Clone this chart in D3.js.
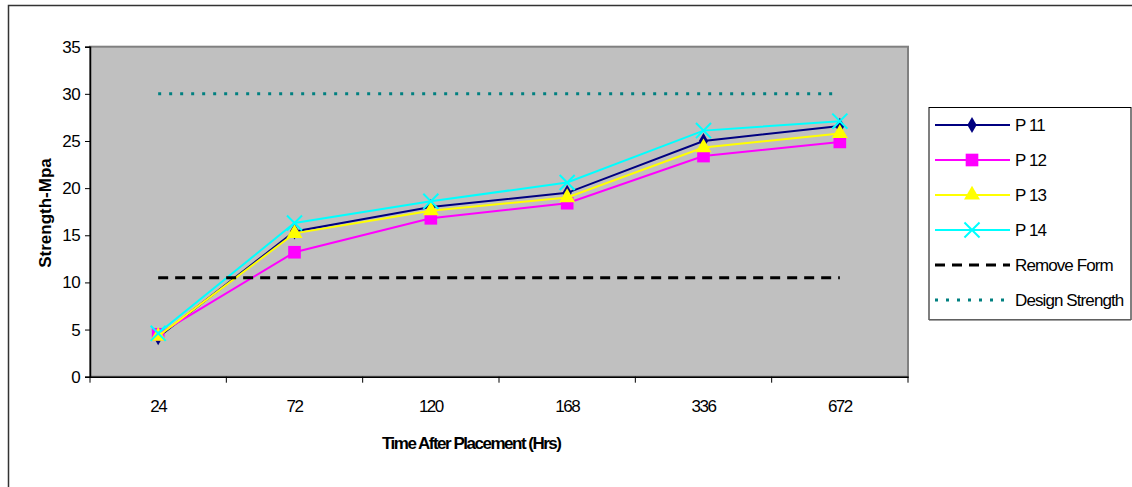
<!DOCTYPE html>
<html><head><meta charset="utf-8">
<script src="https://cdn.jsdelivr.net/npm/d3@7"></script>
<style>
body{margin:0;background:#fff;}
text{font-family:"Liberation Sans",Arial,sans-serif;}
</style></head>
<body>
<svg id="c" width="1132" height="487"></svg>
<script>
const categories = ["24","72","120","168","336","672"];
const p11 = [4.2, 15.4, 18.0, 19.5, 25.0, 26.6];
const p12 = [4.5, 13.2, 16.8, 18.4, 23.4, 24.9];
const p13 = [4.3, 15.2, 17.6, 19.0, 24.3, 25.8];
const p14 = [4.6, 16.3, 18.6, 20.6, 26.1, 27.1];
const removeForm = [10.5, 10.5, 10.5, 10.5, 10.5, 10.5];
const designStrength = [30, 30, 30, 30, 30, 30];
const yTicks = [0, 5, 10, 15, 20, 25, 30, 35];
const seriesNames = ["P 11", "P 12", "P 13", "P 14", "Remove Form", "Design Strength"];

const svg = d3.select("#c");
const L = 90, R = 908, T = 46.7, B = 376.7;
const FF = "'Liberation Sans',Arial,sans-serif";

// outer chart border
svg.append("rect").attr("x", 8.5).attr("y", 5.5).attr("width", 1140).attr("height", 500)
  .attr("fill", "#fff").attr("stroke", "#333").attr("stroke-width", 1.5);

const x = d3.scaleBand().domain(categories).range([L, R]);
const y = d3.scaleLinear().domain([0, 35]).range([B, T]);

// plot area
svg.append("rect").attr("x", L).attr("y", T).attr("width", R - L).attr("height", B - T)
  .attr("fill", "#c0c0c0").attr("stroke", "#808080").attr("stroke-width", 2);

// axes
const yAxis = svg.append("g").attr("transform", `translate(${L},0)`)
  .call(d3.axisLeft(y).tickValues(yTicks).tickSize(5).tickPadding(5));
const xAxis = svg.append("g").attr("transform", `translate(0,${B})`)
  .call(d3.axisBottom(x).tickSize(0).tickPadding(23));
const bounds = categories.map(c => x(c)).concat([R]);
xAxis.selectAll(".bt").data(bounds).enter().append("line")
  .attr("x1", d => d).attr("x2", d => d).attr("y1", 0).attr("y2", 6).attr("stroke", "#000");
[yAxis, xAxis].forEach(g => {
  g.selectAll(".domain").attr("stroke", "#000").attr("stroke-width", 1.5);
  g.selectAll("text").attr("font-size", 17).attr("fill", "#000")
    .style("font-family", FF);
});
yAxis.selectAll("text").attr("letter-spacing", -0.6);
xAxis.selectAll("text").attr("letter-spacing", -1.5);
yAxis.selectAll("line").attr("stroke", "#000");

// axis titles
svg.append("text").attr("x", 472).attr("y", 449).attr("text-anchor", "middle")
  .attr("font-size", 17).attr("font-weight", "bold")
  .attr("textLength", 180).attr("lengthAdjust", "spacing")
  .text("Time After Placement (Hrs)");
svg.append("text").attr("transform", "translate(51,213) rotate(-90)").attr("text-anchor", "middle")
  .attr("font-size", 17).attr("font-weight", "bold")
  .text("Strength-Mpa");

const cx = d => x(d) + x.bandwidth() / 2;
const line = d3.line().x((d, i) => cx(categories[i])).y(d => y(d));

const styles = [
  {data: p11, color: "#000080", w: 2, sym: d3.symbolDiamond, size: 75, stroke: false},
  {data: p12, color: "#ff00ff", w: 2, sym: d3.symbolSquare, size: 160, stroke: false},
  {data: p13, color: "#ffff00", w: 2, sym: d3.symbolTriangle, size: 110, stroke: false},
  {data: p14, color: "#00ffff", w: 2, sym: d3.symbolX, size: 150, stroke: true},
  {data: removeForm, color: "#000", w: 3, dash: "10,7", sym: null},
  {data: designStrength, color: "#008080", w: 3, dash: "3,8", sym: null}
];

function drawMarker(g, s, px, py) {
  const p = d3.symbol().type(s.sym).size(s.size)();
  const m = g.append("path").attr("d", p).attr("transform", `translate(${px},${py})`);
  if (s.stroke) m.attr("fill", "none").attr("stroke", s.color).attr("stroke-width", 2);
  else m.attr("fill", s.color);
}

styles.forEach(s => {
  const g = svg.append("g");
  g.append("path").datum(s.data).attr("d", line).attr("fill", "none")
    .attr("stroke", s.color).attr("stroke-width", s.w)
    .attr("stroke-dasharray", s.dash || null);
  if (s.sym) s.data.forEach((v, i) => drawMarker(g, s, cx(categories[i]), y(v)));
});

// legend
const lg = svg.append("g");
lg.append("rect").attr("x", 929).attr("y", 107.5).attr("width", 202).attr("height", 212)
  .attr("fill", "#fff").attr("stroke", "#000").attr("stroke-width", 1);
lg.append("line").attr("x1", 929).attr("x2", 1131).attr("y1", 320).attr("y2", 320)
  .attr("stroke", "#808080").attr("stroke-width", 1.5);
styles.forEach((s, i) => {
  const ly = 125 + i * 35;
  lg.append("line").attr("x1", 935).attr("x2", 1010).attr("y1", ly).attr("y2", ly)
    .attr("stroke", s.color).attr("stroke-width", s.w).attr("stroke-dasharray", s.dash || null);
  if (s.sym) drawMarker(lg, s, 972, ly);
  lg.append("text").attr("x", 1015).attr("y", ly + 6).attr("font-size", 17)
    .attr("letter-spacing", -0.9).text(seriesNames[i]);
});
</script>
</body></html>
